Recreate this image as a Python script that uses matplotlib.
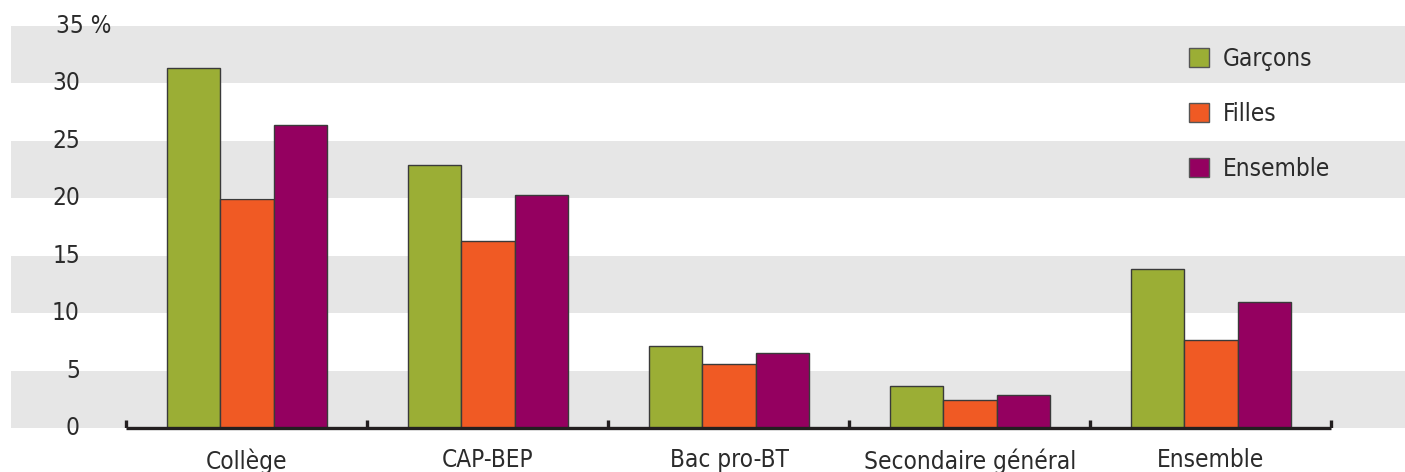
import matplotlib
matplotlib.use('Agg')
import matplotlib.pyplot as plt
import numpy as np
from matplotlib.patches import Patch

plt.rcParams['font.family'] = ['DejaVu Sans']
plt.rcParams['font.stretch'] = 'condensed'

categories = ['Collège', 'CAP-BEP', 'Bac pro-BT', 'Secondaire général', 'Ensemble']
series = ['Garçons', 'Filles', 'Ensemble']
garcons = [31.3, 22.9, 7.1, 3.7, 13.8]
filles = [19.9, 16.3, 5.6, 2.4, 7.7]
ensemble = [26.4, 20.3, 6.5, 2.9, 11.0]
yticks = [0, 5, 10, 15, 20, 25, 30, 35]
colors = ['#9bae35', '#f05a24', '#940060']

W, H = 1405, 472
fig = plt.figure(figsize=(W / 100, H / 100), dpi=100)
ax = fig.add_axes([11 / W, 44 / H, 1394 / W, 402 / H])

# grey bands every other 5 points
for lo in range(0, 35, 10):
    ax.axhspan(lo, lo + 5, color='#e6e6e6', lw=0, zorder=0)

x = np.arange(len(categories))
w = 0.222
for i, (vals, c) in enumerate(zip([garcons, filles, ensemble], colors)):
    ax.bar(x + (i - 1) * w, vals, w, color=c, edgecolor='#3a3a3a', linewidth=1, zorder=2)

# baseline with separator ticks
ax.plot([-0.5, len(categories) - 0.5], [0, 0], color='#231f20', lw=2.4, zorder=3,
        clip_on=False, solid_capstyle='butt')
ax.vlines(np.arange(-0.5, len(categories)), 0, 0.7, color='#231f20', lw=2.4, zorder=3)

ax.set_xlim(-0.979, 4.805)
ax.set_ylim(0, 35)
ax.axis('off')

txt = '#2b2b2b'
fs = 17.5
xl = -0.693
for t in yticks:
    if t == 35:
        ax.text(xl - 0.1, t, '35 %', ha='left', va='center', fontsize=fs, color=txt)
    else:
        ax.text(xl, t, str(t), ha='right', va='center', fontsize=fs, color=txt)
for xi, cat in zip(x, categories):
    ax.text(xi, -1.75, cat, ha='center', va='top', fontsize=fs, color=txt)

handles = [Patch(facecolor=c, edgecolor='#555555', linewidth=1) for c in colors]
fig.legend(handles, series, loc='upper left', bbox_to_anchor=(1177 / W, 1 - 35 / H),
           frameon=False, fontsize=fs, handlelength=0.8, handleheight=0.8,
           handletextpad=0.6, labelspacing=1.27, labelcolor=txt, borderpad=0)

fig.savefig('out.png', dpi=100)
